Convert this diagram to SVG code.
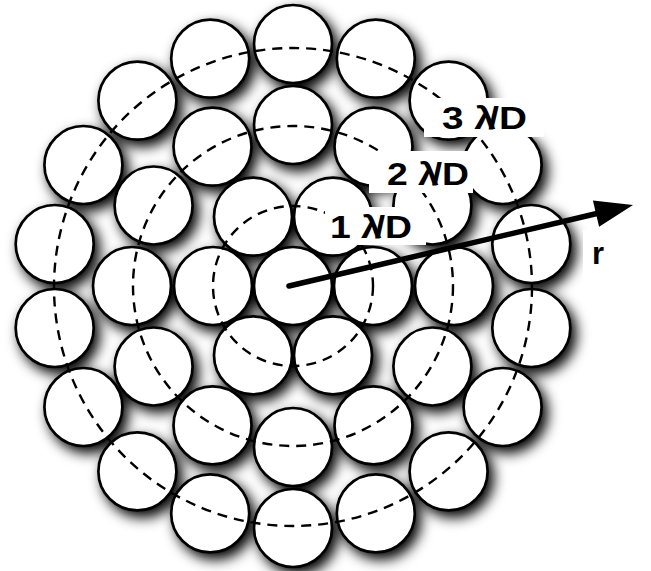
<svg xmlns="http://www.w3.org/2000/svg" width="651" height="571" viewBox="0 0 651 571">
<style>
.disk{fill:#fff;stroke:#000;stroke-width:2.7}
.ring{fill:none;stroke:#000;stroke-width:2.4;stroke-dasharray:10 7}
.lbl{font-family:"Liberation Sans",Arial,sans-serif;font-weight:bold;font-size:31px;fill:#000}
.box{fill:#fff}
</style>
<defs>
<filter id="shadow" x="-15%" y="-15%" width="135%" height="135%">
<feGaussianBlur in="SourceAlpha" stdDeviation="6.5"/>
<feOffset dx="5" dy="6" result="b"/>
<feComponentTransfer><feFuncA type="linear" slope="1"/></feComponentTransfer>
<feMerge><feMergeNode/><feMergeNode in="SourceGraphic"/></feMerge>
</filter>
</defs>
<rect width="651" height="571" fill="#fff"/>
<g id="disks" filter="url(#shadow)">
<circle id="c0" class="disk" cx="293" cy="286" r="39"/>
<circle id="r1a" class="disk" cx="373" cy="286" r="39"/>
<circle id="r1b" class="disk" cx="333" cy="216.7" r="39"/>
<circle id="r1c" class="disk" cx="253" cy="216.7" r="39"/>
<circle id="r1d" class="disk" cx="213" cy="286" r="39"/>
<circle id="r1e" class="disk" cx="253" cy="355.3" r="39"/>
<circle id="r1f" class="disk" cx="333" cy="355.3" r="39"/>
<circle id="r2a" class="disk" cx="454" cy="286" r="39"/>
<circle id="r2b" class="disk" cx="432.4" cy="205.5" r="39"/>
<circle id="r2c" class="disk" cx="373.5" cy="146.6" r="39"/>
<circle id="r2d" class="disk" cx="293" cy="125" r="39"/>
<circle id="r2e" class="disk" cx="212.5" cy="146.6" r="39"/>
<circle id="r2f" class="disk" cx="153.6" cy="205.5" r="39"/>
<circle id="r2g" class="disk" cx="132" cy="286" r="39"/>
<circle id="r2h" class="disk" cx="153.6" cy="366.5" r="39"/>
<circle id="r2i" class="disk" cx="212.5" cy="425.4" r="39"/>
<circle id="r2j" class="disk" cx="293" cy="447" r="39"/>
<circle id="r2k" class="disk" cx="373.5" cy="425.4" r="39"/>
<circle id="r2l" class="disk" cx="432.4" cy="366.5" r="39"/>
<circle id="r3a" class="disk" cx="531.3" cy="244" r="39"/>
<circle id="r3b" class="disk" cx="502.6" cy="165" r="39"/>
<circle id="r3c" class="disk" cx="448.6" cy="100.6" r="39"/>
<circle id="r3d" class="disk" cx="375.8" cy="58.6" r="39"/>
<circle id="r3e" class="disk" cx="293" cy="44" r="39"/>
<circle id="r3f" class="disk" cx="210.2" cy="58.6" r="39"/>
<circle id="r3g" class="disk" cx="137.4" cy="100.6" r="39"/>
<circle id="r3h" class="disk" cx="83.4" cy="165" r="39"/>
<circle id="r3i" class="disk" cx="54.7" cy="244" r="39"/>
<circle id="r3j" class="disk" cx="54.7" cy="328" r="39"/>
<circle id="r3k" class="disk" cx="83.4" cy="407" r="39"/>
<circle id="r3l" class="disk" cx="137.4" cy="471.4" r="39"/>
<circle id="r3m" class="disk" cx="210.2" cy="513.4" r="39"/>
<circle id="r3n" class="disk" cx="293" cy="528" r="39"/>
<circle id="r3o" class="disk" cx="375.8" cy="513.4" r="39"/>
<circle id="r3p" class="disk" cx="448.6" cy="471.4" r="39"/>
<circle id="r3q" class="disk" cx="502.6" cy="407" r="39"/>
<circle id="r3r" class="disk" cx="531.3" cy="328" r="39"/>
</g>
<g id="rings">
<circle class="ring" cx="293" cy="286" r="80"/>
<circle class="ring" cx="293" cy="286" r="160"/>
<circle class="ring" cx="293" cy="287" r="239"/>
</g>
<g id="connectors">
<line x1="289" y1="286" x2="598" y2="213.3" stroke="#000" stroke-width="5.5" stroke-linecap="round"/>
<polygon points="633,205 592.9,200.6 599.1,226.8" fill="#000"/>
</g>
<g id="label-1">
<rect class="box" x="325" y="207" width="101" height="38"/>
<text class="lbl" x="330" y="238" textLength="82" lengthAdjust="spacingAndGlyphs">1 λ<tspan dx="-6">/</tspan>D</text>
</g>
<g id="label-2">
<rect class="box" x="369" y="151" width="104" height="42"/>
<text class="lbl" x="387" y="185" textLength="82" lengthAdjust="spacingAndGlyphs">2 λ<tspan dx="-6">/</tspan>D</text>
</g>
<g id="label-3">
<rect class="box" x="424" y="98" width="120" height="39"/>
<text class="lbl" x="442" y="129" textLength="85" lengthAdjust="spacingAndGlyphs">3 λ<tspan dx="-6">/</tspan>D</text>
</g>
<g id="label-r">
<rect class="box" x="583" y="230" width="50" height="47"/>
<text class="lbl" x="592" y="264">r</text>
</g>
</svg>
